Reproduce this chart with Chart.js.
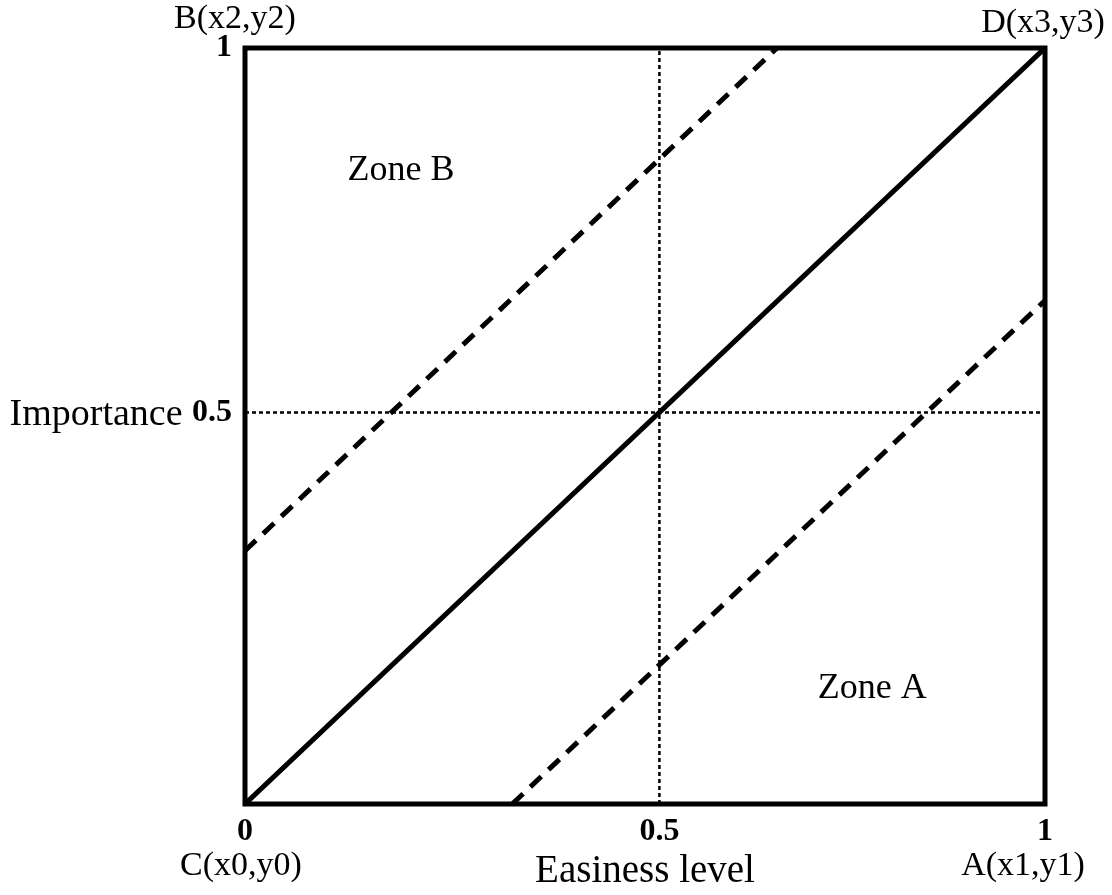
<!DOCTYPE html>
<html>
<head>
<meta charset="utf-8">
<script src="https://cdn.jsdelivr.net/npm/chart.js@4/dist/chart.umd.min.js"></script>
<style>
    body { margin: 0; background: #fff; }
</style>
</head>
<body>
<canvas id="zoneChart" width="1112" height="895"></canvas>
<script>
// lines of the diagram, in data units (0..1 on both axes)
const solidX = [0, 1];
const solidY = [0, 1];
const upperX = [0, 0.665];
const upperY = [0.335, 1];
const lowerX = [0.334, 1];
const lowerY = [0, 0.666];
// dotted guides through the "0.5" mark
const vGuideX = [0.518, 0.518];
const vGuideY = [0, 1];
const hGuideX = [0, 1];
const hGuideY = [0.518, 0.518];

const xTickValues = [0, 0.518, 1];
const xTickLabels = ['0', '0.5', '1'];
const yTickValues = [0.518, 1];
const yTickLabels = ['0.5', '1'];

// free text on the figure (anchored in data units)
const noteTexts = ['Zone B', 'Zone A', 'B(x2,y2)', 'D(x3,y3)', 'C(x0,y0)', 'A(x1,y1)', 'Importance'];
const noteX = [0.195, 0.784, -0.0125, 0.9975, -0.005, 0.9725, -0.078];
const noteY = [0.825, 0.140, 1.026, 1.021, -0.094, -0.094, 0.501];
const noteAlign = ['center', 'center', 'center', 'center', 'center', 'center', 'right'];

const SERIF = "'Liberation Serif', 'Times New Roman', serif";

function pts(xs, ys) {
    return xs.map((x, i) => ({ x: x, y: ys[i] }));
}

function lineSet(xs, ys, width, dash) {
    return {
        data: pts(xs, ys),
        showLine: true,
        borderColor: '#000',
        borderWidth: width,
        borderDash: dash,
        pointRadius: 0,
        fill: false
    };
}

const framePlugin = {
    id: 'frame',
    afterDatasetsDraw(chart) {
        const a = chart.chartArea;
        const ctx = chart.ctx;
        ctx.save();
        ctx.strokeStyle = '#000';
        ctx.lineWidth = 5;
        ctx.strokeRect(a.left, a.top, a.right - a.left, a.bottom - a.top);
        ctx.restore();
    }
};

const notesPlugin = {
    id: 'notes',
    afterDraw(chart) {
        const ctx = chart.ctx;
        const xs = chart.scales.x, ys = chart.scales.y;
        ctx.save();
        ctx.fillStyle = '#000';
        ctx.textBaseline = 'alphabetic';
        noteTexts.forEach((t, i) => {
            ctx.font = (i < 2 ? '36px ' : (i == 6 ? '38px ' : '34px ')) + SERIF;
            ctx.textAlign = noteAlign[i];
            ctx.fillText(t, xs.getPixelForValue(noteX[i]), ys.getPixelForValue(noteY[i]));
        });
        ctx.restore();
    }
};

document.addEventListener("DOMContentLoaded", () => {
    const tickFont = { family: SERIF, size: 32, weight: 'bold' };
    new Chart(document.getElementById("zoneChart").getContext("2d"), {
        type: 'scatter',
        data: {
            datasets: [
                lineSet(vGuideX, vGuideY, 2.5, [4, 3]),
                lineSet(hGuideX, hGuideY, 2.5, [4, 3]),
                lineSet(solidX, solidY, 5, []),
                lineSet(upperX, upperY, 5, [15, 10]),
                lineSet(lowerX, lowerY, 5, [15, 10])
            ]
        },
        options: {
            responsive: false,
            animation: false,
            layout: { padding: { top: 48, right: 67, left: 0, bottom: 0 } },
            plugins: {
                legend: { display: false },
                tooltip: { enabled: false }
            },
            scales: {
                x: {
                    type: 'linear',
                    min: 0,
                    max: 1,
                    grid: { display: false },
                    border: { display: false },
                    afterBuildTicks: s => { s.ticks = xTickValues.map(v => ({ value: v })); },
                    afterFit: s => { s.height = 91; },
                    ticks: {
                        color: '#000',
                        font: tickFont,
                        padding: 1,
                        maxRotation: 0,
                        callback: (v, i) => xTickLabels[i]
                    },
                    title: {
                        display: true,
                        text: 'Easiness level',
                        color: '#000',
                        font: { family: SERIF, size: 39 },
                        padding: { top: 0, bottom: 0 }
                    }
                },
                y: {
                    type: 'linear',
                    min: 0,
                    max: 1,
                    grid: { display: false },
                    border: { display: false },
                    afterBuildTicks: s => { s.ticks = yTickValues.map(v => ({ value: v })); },
                    afterFit: s => { s.width = 245; },
                    ticks: {
                        color: '#000',
                        font: tickFont,
                        padding: 5,
                        callback: (v, i) => yTickLabels[i]
                    }
                }
            }
        },
        plugins: [framePlugin, notesPlugin]
    });
});
</script>
</body>
</html>
